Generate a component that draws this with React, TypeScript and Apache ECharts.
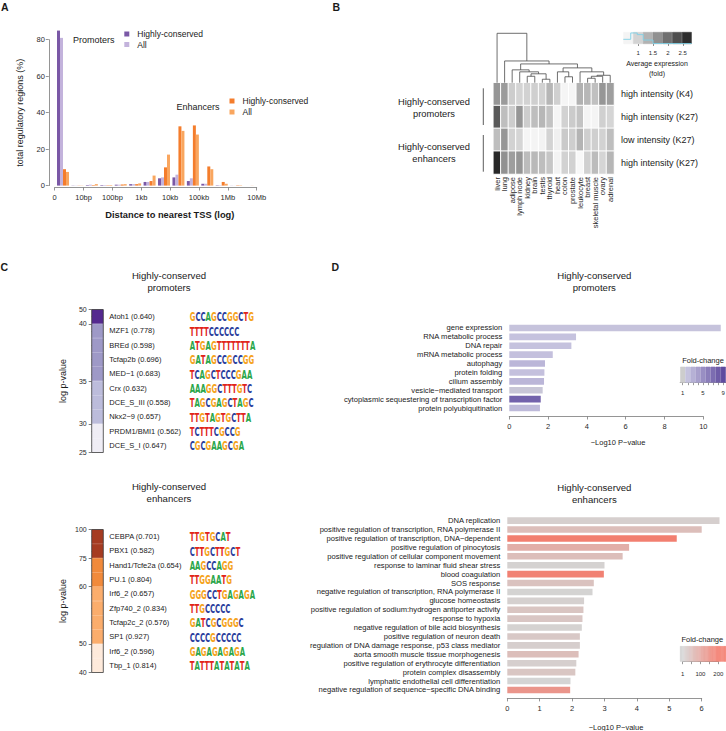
import React, { useEffect, useRef } from 'react';
import * as echarts from 'echarts';

const FONT = '"Liberation Sans", Arial, Helvetica, sans-serif';
const TXT = '#1a1a1a';
const AX = '#7a7a7a';

// ---------------- Panel A ----------------
const distBins = ['0–3bp', '3–10bp', '10–30bp', '30–100bp', '100–300bp', '300bp–1kb', '1–3kb', '3–10kb', '10–30kb', '30–100kb', '100–300kb', '300kb–1Mb', '1–3Mb', '3–10Mb'];
const distTickLabels = ['0', '10bp', '100bp', '1kb', '10kb', '100kb', '1Mb', '10Mb'];
const promHC = [85, 0.1, 0.3, 0.3, 0.5, 0.8, 2, 4, 4.5, 2.5, 1, 0.2, 0.05, 0];
const promAll = [81, 0.1, 0.5, 0.3, 0.5, 0.8, 2, 4.5, 6, 4, 1, 0.2, 0.05, 0];
const enhHC = [9, 0.1, 0.3, 0.2, 0.6, 0.8, 2.5, 10, 32.5, 33, 10.5, 2, 0.2, 0.05];
const enhAll = [7.5, 0.1, 0.8, 0.3, 0.8, 1.2, 5.5, 17, 30, 28, 9, 1, 0.2, 0.05];
const legendNames: Record<string, string> = { promHC: 'Highly-conserved', promAll: 'All', enhHC: 'Highly-conserved', enhAll: 'All' };

// ---------------- Panel B ----------------
const tissues = ['liver', 'lung', 'adipose', 'lymph node', 'kidney', 'brain', 'testis', 'thyroid', 'heart', 'colon', 'prostate', 'leukocyte', 'breast', 'skeletal muscle', 'ovary', 'adrenal'];
const hmRowLabels = ['high intensity (K4)', 'high intensity (K27)', 'low intensity (K27)', 'high intensity (K27)'];
const exprPromK4 = [1.6, 1.55, 1.05, 0.98, 1.0, 1.03, 1.0, 1.28, 1.02, 0.65, 0.65, 1.33, 1.27, 1.18, 1.6, 1.52];
const exprPromK27 = [2.2, 1.2, 1.05, 1.6, 1.05, 1.2, 1.27, 1.15, 0.65, 1.0, 1.07, 1.15, 0.66, 0.66, 1.02, 0.97];
const exprEnhLowK27 = [1.2, 1.6, 1.0, 0.97, 0.65, 0.66, 0.67, 0.99, 0.7, 1.08, 1.04, 1.3, 1.03, 1.03, 1.0, 1.2];
const exprEnhHighK27 = [2.7, 1.65, 1.52, 1.6, 1.22, 1.25, 1.2, 1.12, 0.67, 1.0, 1.01, 0.62, 1.02, 1.22, 0.97, 1.28];
const keyBlocks = [0.66, 0.99, 1.32, 1.65, 1.98, 2.31, 2.64];
const keyTicks = [1, 1.5, 2, 2.5];
const keyHist = [[0.5, 0.39], [0.75, 0.92], [0.97, 0.78], [1.17, 0.33], [1.5, 0.04], [2.8, 0.04]];
// dendrogram merges: [childA, childB, height]; leaves 0..15, internal nodes 16+
const dendroMerges = [
  [4, 5, 0.13], [6, 7, 0.07], [16, 17, 0.18], [3, 18, 0.22], [2, 19, 0.26],
  [9, 10, 0.12], [8, 21, 0.22], [12, 13, 0.09], [23, 14, 0.13], [24, 15, 0.15],
  [11, 25, 0.22], [22, 26, 0.3], [20, 27, 0.38], [1, 28, 0.44], [0, 29, 1.0],
];

// ---------------- Panel C ----------------
const promMotifs = ['Atoh1', 'MZF1', 'BREd', 'Tcfap2b', 'MED−1', 'Crx', 'DCE_S_III', 'Nkx2−9', 'PRDM1/BMI1', 'DCE_S_I'];
const promMotifScores = ['0.640', '0.778', '0.598', '0.696', '0.683', '0.632', '0.558', '0.657', '0.562', '0.647'];
const promLogos = ['GCCAGCCGGCTG', 'TTTTCCCCCC', 'ATGAGTTTTTTTA', 'GATAGCCGCCGG', 'TCAGCTCCCGAA', 'AAAGGCTTTGTC', 'TAGCGAGCTAGC', 'TTGTAGTGCTTA', 'TCTTTCGCCG', 'CGCGAAGCGA'];
const promBand = [0, 1, 1, 1, 1, 2, 2, 2, 3, 3];
const promBreakRows = [0, 1, 5, 8, 10];
const promBreakP = [50, 40, 35, 30, 25];
const enhMotifs = ['CEBPA', 'PBX1', 'Hand1/Tcfe2a', 'PU.1', 'Irf6_2', 'Zfp740_2', 'Tcfap2c_2', 'SP1', 'Irf6_2', 'Tbp_1'];
const enhMotifScores = ['0.701', '0.582', '0.654', '0.804', '0.657', '0.834', '0.576', '0.927', '0.596', '0.814'];
const enhLogos = ['TTGTGCAT', 'CTTGCTTGCT', 'AAGCCAGG', 'TTGGAATG', 'GGGCCTGAGAGA', 'TTGCCCCC', 'GATCGCGGGC', 'CCCCGCCCCC', 'GAGAGAGAGA', 'TATTTATATATA'];
const enhBand = [0, 0, 1, 1, 2, 2, 2, 2, 3, 3];
const enhBreakRows = [0, 2, 4, 8, 10];
const enhBreakP = [100, 75, 60, 50, 40];

// ---------------- Panel D ----------------
const promTerms = ['gene expression', 'RNA metabolic process', 'DNA repair', 'mRNA metabolic process', 'autophagy', 'protein folding', 'cilium assembly', 'vesicle−mediated transport', 'cytoplasmic sequestering of transcription factor', 'protein polyubiquitination'];
const promTermLogP = [10.9, 3.44, 3.2, 2.24, 1.84, 1.81, 1.79, 1.72, 1.62, 1.58];
const promTermFold = [1.9, 2.0, 2.0, 2.1, 2.7, 2.1, 2.7, 1.6, 7.6, 2.5];
const promFoldTicks = ['1', '2', '3', '4', '5', '6', '7', '8', '9'];
const enhTerms = ['DNA replication', 'positive regulation of transcription, RNA polymerase II', 'positive regulation of transcription, DNA−dependent', 'positive regulation of pinocytosis', 'positive regulation of cellular component movement', 'response to laminar fluid shear stress', 'blood coagulation', 'SOS response', 'negative regulation of transcription, RNA polymerase II', 'glucose homeostasis', 'positive regulation of sodium:hydrogen antiporter activity', 'response to hypoxia', 'negative regulation of bile acid biosynthesis', 'positive regulation of neuron death', 'regulation of DNA damage response, p53 class mediator', 'aorta smooth muscle tissue morphogenesis', 'positive regulation of erythrocyte differentiation', 'protein complex disassembly', 'lymphatic endothelial cell differentiation', 'negative regulation of sequence−specific DNA binding'];
const enhTermLogP = [6.55, 6.0, 5.23, 3.76, 3.56, 3.0, 2.98, 2.67, 2.63, 2.37, 2.35, 2.32, 2.3, 2.24, 2.24, 2.2, 2.13, 2.1, 1.95, 1.94];
const enhTermFold = [12, 50, 190, 85, 50, 6, 184, 40, 4, 10, 35, 32, 6, 28, 15, 50, 12, 33, 1, 140];
const enhFoldTicks = [1, 100, 200];

// ---------------- helpers ----------------
function hex(c: string) {
  const n = parseInt(c.slice(1), 16);
  return [(n >> 16) & 255, (n >> 8) & 255, n & 255];
}
function scaleColor(stops: [number, string][], v: number) {
  if (v <= stops[0][0]) return stops[0][1];
  for (let i = 1; i < stops.length; i++) {
    if (v <= stops[i][0]) {
      const t = (v - stops[i - 1][0]) / (stops[i][0] - stops[i - 1][0]);
      const a = hex(stops[i - 1][1]);
      const b = hex(stops[i][1]);
      const c = a.map((x, k) => Math.round(x + (b[k] - x) * t));
      return `rgb(${c[0]},${c[1]},${c[2]})`;
    }
  }
  return stops[stops.length - 1][1];
}
const grayStops: [number, string][] = [[0.55, '#ffffff'], [2.8, '#1e1e1e']];
const purpleStops: [number, string][] = [[1, '#cdcdcd'], [2, '#c5c2de'], [9, '#5f4b9f']];
const redStops: [number, string][] = [[1, '#d4d4d4'], [200, '#f47a6b']];
const promBandColors = ['#54298f', '#9e99c7', '#bcbcdb', '#efedf5'];
const enhBandColors = ['#a53b21', '#f18a3b', '#fbad6c', '#feeadb'];
const logoColors: Record<string, string> = { A: '#2aa64a', C: '#2a3d9c', G: '#f5a31c', T: '#e1251b' };
const logoRich: any = {};
Object.keys(logoColors).forEach((k) => {
  logoRich[k] = { fill: logoColors[k], fontSize: 12, fontWeight: 'bold', fontFamily: '"DejaVu Sans", sans-serif' };
});
const logoText = (s: string) => s.split('').map((ch) => `{${ch}|${ch}}`).join('');

const lbl = (size: number, extra: any = {}) => ({ fontSize: size, color: '#2a2a2a', fontFamily: FONT, ...extra });
const axLine = { show: true, lineStyle: { color: AX, width: 0.8 } };
const solid = (color: string) => ({ color, borderColor: color, borderWidth: 0.6 });
const noSplit = { splitLine: { show: false }, splitArea: { show: false } };

function buildOption(): any {
  const G = (left: number, top: number, width: number, height: number, extra: any = {}) => ({ left, top, width, height, containLabel: false, outerBoundsMode: 'none', ...extra });
  const frame = { show: true, borderColor: '#3a3a3a', borderWidth: 0.8, backgroundColor: 'transparent', z: 5 };
  const grid = [
    G(55.8, 39.7, 202, 145.9), // 0 A bars
    G(54.7, 39.7, 202, 147.8), // 1 A x ticks
    G(493.3, 82.7, 120.7, 91.3), // 2 heatmap
    G(493.3, 33.3, 120.7, 49.4), // 3 dendrogram
    G(623.3, 32, 68.4, 12), // 4 key blocks
    G(623.3, 32, 68.4, 12), // 5 key ticks + hist
    G(91.7, 309.5, 11.6, 143, frame), // 6 C1
    G(91.7, 529.5, 11.6, 143, frame), // 7 C2
    G(509.3, 323.5, 194, 89), // 8 D1
    G(680.2, 366.7, 45.6, 16), // 9 D1 legend
    G(507.3, 516.2, 194.4, 178.2), // 10 D2
    G(680, 646, 46, 15.7), // 11 D2 legend blocks
    G(682.7, 646, 35.6, 15.7), // 12 D2 legend ticks
  ];

  const hidCat = (g: number, data: string[]) => ({ type: 'category', gridIndex: g, data, show: false, ...noSplit });
  const hidVal = (g: number, min: number, max: number, inverse = false) => ({ type: 'value', gridIndex: g, min, max, show: false, inverse, ...noSplit });

  const xAxis = [
    hidCat(0, distBins),
    {
      type: 'value', gridIndex: 1, min: 0, max: 7, interval: 1, ...noSplit,
      axisLine: axLine, axisTick: { show: true, length: 3, lineStyle: { color: AX, width: 0.8 } },
      axisLabel: { ...lbl(7.5), margin: 6, formatter: (v: number) => distTickLabels[v] ?? '' },
    },
    {
      type: 'category', gridIndex: 2, data: tissues, position: 'bottom', ...noSplit,
      axisLine: { show: false }, axisTick: { show: false },
      axisLabel: { ...lbl(7.5), rotate: 90, margin: 3, interval: 0 },
    },
    hidCat(3, tissues),
    hidCat(4, keyBlocks.map(String)),
    {
      type: 'value', gridIndex: 5, min: 0.5, max: 2.8, offset: 2, ...noSplit,
      axisLine: { show: false },
      axisTick: { show: true, length: 2, customValues: keyTicks, lineStyle: { color: '#444', width: 0.6 } },
      axisLabel: { ...lbl(6), margin: 4, customValues: keyTicks },
    },
    hidVal(6, 0, 1),
    hidVal(7, 0, 1),
    {
      type: 'value', gridIndex: 8, min: 0, max: 10, interval: 2, offset: 4, ...noSplit,
      axisLine: axLine, axisTick: { show: true, length: 3, lineStyle: { color: AX, width: 0.8 } },
      axisLabel: { ...lbl(7.5), margin: 6 },
    },
    {
      type: 'category', gridIndex: 9, data: promFoldTicks, offset: 3, ...noSplit,
      axisLine: { show: true, lineStyle: { color: '#555', width: 0.6 } },
      axisTick: { show: true, length: 2.5, alignWithLabel: true, interval: 0, lineStyle: { color: '#555', width: 0.6 } },
      axisLabel: { ...lbl(6), margin: 4, interval: (i: number) => i % 4 === 0 },
    },
    {
      type: 'value', gridIndex: 10, min: 0, max: 6, interval: 1, offset: 4, ...noSplit,
      axisLine: axLine, axisTick: { show: true, length: 3, lineStyle: { color: AX, width: 0.8 } },
      axisLabel: { ...lbl(7.5), margin: 6 },
    },
    hidCat(11, Array.from({ length: 40 }, (_, i) => String(i))),
    {
      type: 'value', gridIndex: 12, min: 1, max: 200, offset: 5, ...noSplit,
      axisLine: { show: true, lineStyle: { color: '#555', width: 0.6 } },
      axisTick: { show: true, length: 2.5, customValues: [1, 50, 100, 150, 200], lineStyle: { color: '#555', width: 0.6 } },
      axisLabel: { ...lbl(6), margin: 4, customValues: enhFoldTicks },
    },
  ];

  const yAxis = [
    {
      type: 'value', gridIndex: 0, min: 0, max: 80, interval: 20, offset: 7, ...noSplit,
      axisLine: axLine, axisTick: { show: true, length: 3, lineStyle: { color: AX, width: 0.8 } },
      axisLabel: { ...lbl(7.5), margin: 4 },
      name: 'total regulatory regions (%)', nameLocation: 'middle', nameGap: 24, nameRotate: 90,
      nameTextStyle: { fontSize: 9, color: TXT, fontFamily: FONT },
    },
    hidVal(1, 0, 1),
    {
      type: 'category', gridIndex: 2, data: ['r0', 'r1', 'r2', 'r3'], inverse: true, position: 'right', ...noSplit,
      axisLine: { show: false }, axisTick: { show: false },
      axisLabel: { ...lbl(9, { color: TXT }), margin: 7, formatter: (_: string, i: number) => hmRowLabels[i] },
    },
    hidVal(3, 0, 1),
    hidVal(4, 0, 1),
    hidVal(5, 0, 1),
    {
      type: 'category', gridIndex: 6, data: promMotifs.map((_, i) => 'p' + i), inverse: true, position: 'right', ...noSplit,
      axisLine: { show: false },
      axisTick: { show: true, alignWithLabel: true, length: 3, lineStyle: { color: '#444', width: 0.7 } },
      axisLabel: { ...lbl(7.5, { color: TXT }), margin: 6, formatter: (_: string, i: number) => `${promMotifs[i]} (${promMotifScores[i]})` },
    },
    {
      type: 'value', gridIndex: 6, min: 0, max: 10, inverse: true, position: 'left', ...noSplit,
      axisLine: { show: false },
      axisTick: { show: true, length: 3, customValues: promBreakRows, lineStyle: { color: '#444', width: 0.7 } },
      axisLabel: { ...lbl(7), margin: 5, customValues: promBreakRows, formatter: (v: number) => String(promBreakP[promBreakRows.indexOf(v)]) },
      name: 'log p-value', nameLocation: 'middle', nameGap: 24, nameRotate: 90,
      nameTextStyle: { fontSize: 9, color: TXT, fontFamily: FONT },
    },
    {
      type: 'category', gridIndex: 7, data: enhMotifs.map((_, i) => 'e' + i), inverse: true, position: 'right', ...noSplit,
      axisLine: { show: false },
      axisTick: { show: true, alignWithLabel: true, length: 3, lineStyle: { color: '#444', width: 0.7 } },
      axisLabel: { ...lbl(7.5, { color: TXT }), margin: 6, formatter: (_: string, i: number) => `${enhMotifs[i]} (${enhMotifScores[i]})` },
    },
    {
      type: 'value', gridIndex: 7, min: 0, max: 10, inverse: true, position: 'left', ...noSplit,
      axisLine: { show: false },
      axisTick: { show: true, length: 3, customValues: enhBreakRows, lineStyle: { color: '#444', width: 0.7 } },
      axisLabel: { ...lbl(7), margin: 5, customValues: enhBreakRows, formatter: (v: number) => String(enhBreakP[enhBreakRows.indexOf(v)]) },
      name: 'log p-value', nameLocation: 'middle', nameGap: 24, nameRotate: 90,
      nameTextStyle: { fontSize: 9, color: TXT, fontFamily: FONT },
    },
    {
      type: 'category', gridIndex: 8, data: promTerms, inverse: true, ...noSplit,
      axisLine: { show: false }, axisTick: { show: false },
      axisLabel: { ...lbl(7.6, { color: TXT }), margin: 7, interval: 0 },
    },
    hidVal(9, 0, 1),
    {
      type: 'category', gridIndex: 10, data: enhTerms, inverse: true, ...noSplit,
      axisLine: { show: false }, axisTick: { show: false },
      axisLabel: { ...lbl(7.6, { color: TXT }), margin: 7, interval: 0 },
    },
    hidVal(11, 0, 1),
    hidVal(12, 0, 1),
  ];

  const barA = (name: string, data: number[], color: string) => ({
    type: 'bar', name, data, xAxisIndex: 0, yAxisIndex: 0, barGap: '0%', barCategoryGap: '17%',
    itemStyle: { color }, clip: false, silent: true,
  });

  const heatData: number[][] = [];
  [exprPromK4, exprPromK27, exprEnhLowK27, exprEnhHighK27].forEach((row, r) => row.forEach((v, c) => heatData.push([c, r, v])));

  const logoSeries = (xi: number, yi: number, logos: string[]) => ({
    type: 'custom', xAxisIndex: xi, yAxisIndex: yi, silent: true, clip: false,
    data: logos.map((_, i) => [0, i]), encode: { x: 0, y: 1 },
    renderItem: (params: any, api: any) => {
      const row = api.value(1);
      const p = api.coord([0, row]);
      return {
        type: 'text', x: p[0] + 98, y: p[1] + 0.5, scaleX: 0.58,
        style: { text: logoText(logos[row]), rich: logoRich, verticalAlign: 'middle', align: 'left' },
      };
    },
  });

  const series: any[] = [
    barA('promHC', promHC, '#7a58a6'),
    barA('promAll', promAll, '#c3b3dc'),
    barA('enhHC', enhHC, '#f47d2c'),
    barA('enhAll', enhAll, '#f9a65f'),
    {
      type: 'heatmap', xAxisIndex: 2, yAxisIndex: 2, data: heatData, silent: true,
      itemStyle: { borderColor: '#ffffff', borderWidth: 1 },
    },
    {
      type: 'custom', xAxisIndex: 3, yAxisIndex: 3, silent: true, clip: false, data: [[0, 0]],
      renderItem: (params: any, api: any) => {
        const px: number[] = [];
        const py: number[] = [];
        for (let i = 0; i < tissues.length; i++) {
          px[i] = api.coord([i, 0])[0];
          py[i] = api.coord([0, 0])[1];
        }
        const children: any[] = [];
        dendroMerges.forEach(([a, b, h], k) => {
          const id = tissues.length + k;
          const y = api.coord([0, h])[1];
          px[id] = (px[a] + px[b]) / 2;
          py[id] = y;
          children.push({
            type: 'polyline',
            shape: { points: [[px[a], py[a]], [px[a], y], [px[b], y], [px[b], py[b]]] },
            style: { stroke: '#4a4a4a', lineWidth: 0.8, fill: null },
          });
        });
        return { type: 'group', children };
      },
    },
    {
      type: 'bar', xAxisIndex: 4, yAxisIndex: 4, silent: true, barCategoryGap: '0%',
      data: keyBlocks.map((v) => ({ value: 1, itemStyle: solid(scaleColor(grayStops, v)) })),
    },
    {
      type: 'line', xAxisIndex: 5, yAxisIndex: 5, silent: true, step: 'end', symbol: 'none',
      data: keyHist, lineStyle: { color: '#7fd0e6', width: 0.9 },
    },
    {
      type: 'bar', xAxisIndex: 6, yAxisIndex: 6, silent: true, barCategoryGap: '0%',
      data: promBand.map((b) => ({ value: 1, itemStyle: solid(promBandColors[b]) })),
    },
    logoSeries(6, 6, promLogos),
    {
      type: 'bar', xAxisIndex: 7, yAxisIndex: 8, silent: true, barCategoryGap: '0%',
      data: enhBand.map((b) => ({ value: 1, itemStyle: solid(enhBandColors[b]) })),
    },
    logoSeries(7, 8, enhLogos),
    {
      type: 'bar', xAxisIndex: 8, yAxisIndex: 10, silent: true, barCategoryGap: '26%', clip: false,
      data: promTermLogP.map((v, i) => ({ value: v, itemStyle: { color: scaleColor(purpleStops, promTermFold[i]) } })),
    },
    {
      type: 'bar', xAxisIndex: 9, yAxisIndex: 11, silent: true, barCategoryGap: '0%',
      data: promFoldTicks.map((t) => ({ value: 1, itemStyle: solid(scaleColor(purpleStops, Number(t))) })),
    },
    {
      type: 'bar', xAxisIndex: 10, yAxisIndex: 12, silent: true, barCategoryGap: '26%', clip: false,
      data: enhTermLogP.map((v, i) => ({ value: v, itemStyle: { color: scaleColor(redStops, enhTermFold[i]) } })),
    },
    {
      type: 'bar', xAxisIndex: 11, yAxisIndex: 13, silent: true, barCategoryGap: '0%',
      data: Array.from({ length: 40 }, (_, i) => ({ value: 1, itemStyle: solid(scaleColor(redStops, -14 + (i / 39) * 257)) })),
    },
  ];

  const T = (text: string, x: number, y: number, size = 9, align = 'center', weight = 'normal', lh?: number) => ({
    type: 'text', x, y, silent: true,
    style: { text, fill: TXT, font: `${weight} ${size}px ${FONT}`, align, verticalAlign: 'middle', lineHeight: lh },
  });
  const L = (x1: number, y1: number, x2: number, y2: number) => ({
    type: 'line', silent: true, shape: { x1, y1, x2, y2 }, style: { stroke: '#333', lineWidth: 0.8 },
  });

  const graphic = [
    T('A', 1, 7, 10.5, 'left', 'bold'),
    T('B', 332.5, 7, 10.5, 'left', 'bold'),
    T('C', 0.5, 267, 10.5, 'left', 'bold'),
    T('D', 331.5, 266.7, 10.5, 'left', 'bold'),
    T('Promoters', 73, 39.5, 9, 'left'),
    T('Enhancers', 176.5, 107, 9, 'left'),
    T('Distance to nearest TSS (log)', 169.8, 215, 9.3, 'center', 'bold'),
    T('Highly-conserved\npromoters', 434, 108, 9.3, 'center', 'normal', 11.2),
    T('Highly-conserved\nenhancers', 434, 153, 9.3, 'center', 'normal', 11.2),
    L(483.3, 88.3, 483.3, 125),
    L(483.3, 135, 483.3, 171.7),
    T('Average expression', 657, 63.3, 7),
    T('(fold)', 657, 73.5, 7),
    T('Highly-conserved\npromoters', 169, 281.7, 9.6, 'center', 'normal', 12),
    T('Highly-conserved\nenhancers', 169, 492.5, 9.6, 'center', 'normal', 12),
    T('Highly-conserved\npromoters', 594.3, 281.7, 9.6, 'center', 'normal', 12),
    T('Highly-conserved\nenhancers', 594.3, 493, 9.6, 'center', 'normal', 12),
    T('−Log10 P−value', 618, 442, 7.5),
    T('−Log10 P−value', 616, 727, 7.5),
    T('Fold-change', 703, 360, 7.5),
    T('Fold-change', 702.3, 639.3, 7.5),
  ];

  const legendCommon = {
    orient: 'vertical', itemWidth: 5, itemHeight: 5, itemGap: 0.5, icon: 'rect', padding: 0, selectedMode: false,
    formatter: (n: string) => legendNames[n],
    textStyle: { fontSize: 8.5, fontFamily: FONT, color: TXT, lineHeight: 10, padding: [0, 0, 0, 3] },
  };

  return {
    animation: false,
    backgroundColor: '#ffffff',
    textStyle: { fontFamily: FONT },
    grid, xAxis, yAxis, series, graphic,
    legend: [
      { ...legendCommon, data: ['promHC', 'promAll'], left: 124.3, top: 29 },
      { ...legendCommon, data: ['enhHC', 'enhAll'], left: 229.5, top: 96, itemGap: 1 },
    ],
    visualMap: [{
      type: 'continuous', show: false, seriesIndex: 4, dimension: 2, min: grayStops[0][0], max: grayStops[1][0],
      inRange: { color: [grayStops[0][1], grayStops[1][1]] },
    }],
  };
}

export default function App() {
  const ref = useRef<HTMLDivElement>(null);
  useEffect(() => {
    const chart = echarts.init(ref.current as HTMLDivElement, null, { renderer: 'svg' });
    chart.setOption(buildOption());
    return () => chart.dispose();
  }, []);
  return <div ref={ref} style={{ position: 'fixed', left: 0, top: 0, width: 726, height: 731, background: '#fff' }} />;
}
